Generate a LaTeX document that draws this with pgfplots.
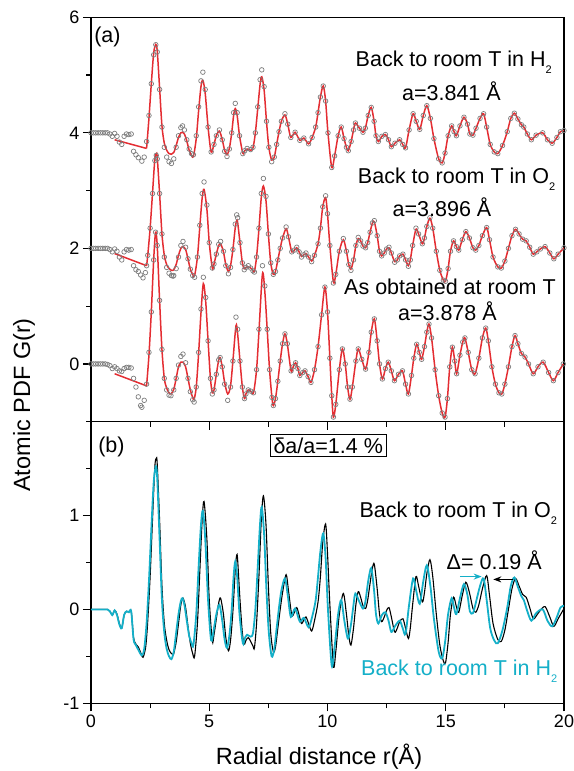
\documentclass[border=0pt]{standalone}
\usepackage{fontspec}
\setmainfont{Liberation Sans}
\usepackage{pgfplots}
\usepackage{pgfplotstable}
\pgfplotsset{compat=1.18}
\usetikzlibrary{arrows.meta}

\definecolor{redC}{RGB}{228,45,50}
\definecolor{cyanC}{RGB}{20,175,200}
\definecolor{grayC}{RGB}{125,125,125}

\newcommand{\fs}{\fontsize{21.5}{24}\selectfont}
\newcommand{\sub}[1]{\raisebox{-7pt}{\fontsize{11}{11}\selectfont #1}}

% r, measured G(r), fit (nan where the fit is not drawn)
% back to room T in H2
\pgfplotstableread{
r g f
0.0 0 nan
0.1 0 nan
0.2 0 nan
0.3 0 nan
0.4 0 nan
0.5 0 nan
0.6 0 nan
0.7 0 nan
0.8 -0.02 nan
0.9 -0.06 nan
1.0 -0.01 nan
1.1 -0.06 nan
1.2 -0.16 nan
1.3 -0.20 nan
1.4 -0.06 nan
1.5 -0.02 nan
1.6 -0.03 nan
1.7 -0.02 nan
1.8 -0.32 nan
1.9 -0.38 nan
2.0 -0.43 nan
2.15 -0.49 nan
2.25 -0.42 nan
2.35 -0.15 -0.27
2.45 0.30 0.25
2.55 0.85 0.85
2.65 1.35 1.38
2.74 1.525 1.53
2.8 1.40 1.42
2.9 0.75 0.78
3.0 0.10 0.12
3.1 -0.25 -0.18
3.2 -0.42 -0.30
3.3 -0.50 -0.36
3.40 -0.53 -0.37
3.5 -0.45 -0.34
3.6 -0.25 -0.22
3.7 -0.05 -0.08
3.8 0.09 0.00
3.87 0.12 0.01
3.95 0.05 -0.02
4.05 -0.12 -0.14
4.15 -0.28 -0.30
4.25 -0.36 -0.39
4.33 -0.38 -0.41
4.45 -0.05 -0.10
4.55 0.45 0.38
4.65 0.90 0.80
4.73 1.05 0.91
4.83 0.75 0.68
4.95 0.10 0.10
5.08 -0.33 -0.33
5.2 -0.20 -0.20
5.3 -0.05 -0.05
5.43 0.05 0.03
5.55 -0.12 -0.12
5.65 -0.32 -0.30
5.75 -0.41 -0.38
5.85 -0.28 -0.27
5.95 0.00 0.00
6.03 0.35 0.30
6.10 0.51 0.42
6.18 0.35 0.30
6.28 -0.05 -0.05
6.42 -0.36 -0.35
6.5 -0.31 -0.31
6.6 -0.27 -0.28
6.75 -0.29 -0.30
6.85 -0.25 -0.26
6.95 0.00 0.00
7.05 0.45 0.42
7.15 0.92 0.84
7.22 1.09 0.97
7.32 0.80 0.74
7.42 0.20 0.20
7.52 -0.25 -0.25
7.64 -0.50 -0.47
7.75 -0.42 -0.42
7.85 -0.20 -0.20
7.95 0.02 0.02
8.05 0.20 0.20
8.20 0.33 0.31
8.32 0.15 0.15
8.45 -0.08 -0.08
8.63 0.01 0.01
8.83 -0.13 -0.13
9.0 -0.09 -0.09
9.2 -0.19 -0.19
9.35 -0.08 -0.08
9.5 0.10 0.10
9.6 0.35 0.35
9.7 0.62 0.62
9.82 0.81 0.81
9.92 0.55 0.55
10.02 0.00 0.00
10.18 -0.60 -0.60
10.3 -0.40 -0.40
10.45 -0.05 -0.05
10.58 0.10 0.10
10.7 -0.10 -0.10
10.8 -0.25 -0.25
10.88 -0.31 -0.31
11.0 -0.15 -0.15
11.1 0.05 0.05
11.18 0.17 0.17
11.35 0.08 0.08
11.5 0.01 0.01
11.6 0.08 0.08
11.72 0.30 0.30
11.85 0.44 0.44
11.97 0.20 0.20
12.05 -0.05 -0.05
12.15 -0.15 -0.15
12.3 -0.06 -0.06
12.45 -0.03 -0.03
12.58 -0.12 -0.12
12.7 -0.24 -0.24
12.85 -0.18 -0.18
13.05 -0.12 -0.12
13.18 -0.20 -0.20
13.3 -0.26 -0.26
13.45 0.05 0.05
13.62 0.33 0.33
13.75 0.20 0.20
13.9 0.06 0.06
14.05 0.30 0.30
14.2 0.47 0.47
14.35 0.25 0.25
14.5 -0.10 -0.10
14.7 -0.45 -0.45
14.85 -0.52 -0.52
14.97 -0.35 -0.35
15.1 -0.05 -0.05
15.25 0.12 0.12
15.35 0.02 0.02
15.45 -0.05 -0.05
15.6 0.12 0.12
15.77 0.27 0.27
15.92 0.15 0.15
16.02 -0.02 -0.02
16.15 -0.04 -0.04
16.28 0.08 0.08
16.45 0.25 0.25
16.6 0.33 0.33
16.73 0.10 0.10
16.88 -0.20 -0.20
17.05 -0.33 -0.33
17.2 -0.36 -0.36
17.4 -0.22 -0.22
17.6 0.02 0.02
17.75 0.25 0.25
17.9 0.34 0.34
18.05 0.24 0.24
18.2 0.14 0.14
18.3 0.10 0.10
18.45 -0.02 -0.02
18.62 -0.12 -0.12
18.82 -0.04 -0.04
19.1 0.00 0.00
19.3 -0.12 -0.12
19.5 -0.18 -0.18
19.7 -0.08 -0.08
19.85 0.02 0.02
20.0 0.04 0.04
}\tabH

% back to room T in O2
\pgfplotstableread{
r g f
0.0 0 nan
0.1 0 nan
0.2 0 nan
0.3 0 nan
0.4 0 nan
0.5 0 nan
0.6 0 nan
0.7 0 nan
0.8 -0.02 nan
0.9 -0.06 nan
1.0 -0.01 nan
1.1 -0.05 nan
1.2 -0.15 nan
1.3 -0.20 nan
1.4 -0.06 nan
1.5 -0.02 nan
1.6 -0.03 nan
1.7 -0.02 nan
1.8 -0.30 nan
1.9 -0.37 nan
2.0 -0.40 nan
2.1 -0.46 nan
2.2 -0.51 nan
2.3 -0.42 nan
2.35 -0.30 -0.30
2.4 -0.12 -0.12
2.5 0.35 0.35
2.6 0.95 0.95
2.7 1.52 1.55
2.76 1.61 1.64
2.8 1.55 1.58
2.9 0.95 0.95
3.0 0.25 0.25
3.1 -0.15 -0.12
3.2 -0.33 -0.28
3.3 -0.43 -0.35
3.4 -0.47 -0.38
3.47 -0.48 -0.38
3.5 -0.47 -0.37
3.6 -0.35 -0.28
3.7 -0.15 -0.12
3.8 0.05 0.00
3.89 0.12 0.03
4.0 0.02 -0.02
4.1 -0.18 -0.18
4.2 -0.36 -0.36
4.3 -0.47 -0.45
4.38 -0.50 -0.47
4.5 -0.15 -0.15
4.6 0.40 0.37
4.7 0.95 0.87
4.78 1.15 1.02
4.9 0.75 0.68
5.0 0.10 0.10
5.13 -0.34 -0.34
5.2 -0.27 -0.27
5.3 -0.10 -0.10
5.4 0.07 0.05
5.48 0.12 0.08
5.6 -0.05 -0.06
5.7 -0.30 -0.28
5.81 -0.44 -0.40
5.9 -0.33 -0.30
6.0 -0.02 -0.02
6.1 0.42 0.36
6.16 0.58 0.48
6.2 0.53 0.45
6.3 0.10 0.10
6.4 -0.25 -0.25
6.48 -0.37 -0.35
6.55 -0.33 -0.33
6.65 -0.30 -0.32
6.75 -0.34 -0.34
6.85 -0.39 -0.38
6.91 -0.41 -0.40
7.0 -0.15 -0.15
7.1 0.35 0.33
7.2 0.95 0.88
7.29 1.21 1.08
7.4 0.90 0.82
7.5 0.25 0.25
7.6 -0.25 -0.25
7.71 -0.45 -0.45
7.8 -0.40 -0.40
7.9 -0.20 -0.20
8.0 0.00 0.00
8.1 0.18 0.18
8.25 0.37 0.34
8.35 0.20 0.20
8.49 -0.06 -0.06
8.6 -0.03 -0.03
8.70 0.02 0.01
8.8 -0.06 -0.06
8.9 -0.15 -0.14
9.0 -0.11 -0.11
9.09 -0.08 -0.09
9.2 -0.15 -0.15
9.33 -0.23 -0.22
9.45 -0.12 -0.12
9.6 0.08 0.08
9.7 0.35 0.35
9.8 0.72 0.72
9.92 0.91 0.88
10.0 0.60 0.60
10.1 0.05 0.05
10.25 -0.60 -0.58
10.35 -0.45 -0.45
10.5 -0.05 -0.05
10.67 0.17 0.15
10.8 -0.05 -0.05
10.9 -0.28 -0.28
10.99 -0.38 -0.36
11.1 -0.20 -0.20
11.2 0.05 0.05
11.30 0.19 0.17
11.4 0.13 0.13
11.5 0.04 0.04
11.61 0.01 0.01
11.7 0.10 0.10
11.8 0.28 0.28
11.9 0.44 0.44
11.98 0.48 0.46
12.1 0.22 0.22
12.2 -0.05 -0.05
12.29 -0.13 -0.13
12.4 -0.08 -0.08
12.5 -0.01 -0.01
12.60 0.02 0.01
12.7 -0.08 -0.08
12.84 -0.24 -0.23
12.95 -0.20 -0.20
13.05 -0.13 -0.13
13.19 -0.10 -0.10
13.3 -0.20 -0.20
13.42 -0.31 -0.30
13.5 -0.20 -0.20
13.6 0.05 0.05
13.74 0.35 0.33
13.85 0.25 0.25
14.01 0.08 0.08
14.1 0.18 0.18
14.2 0.38 0.38
14.33 0.53 0.52
14.45 0.35 0.35
14.6 -0.05 -0.05
14.75 -0.38 -0.38
14.9 -0.55 -0.55
14.99 -0.57 -0.57
15.1 -0.35 -0.35
15.2 -0.05 -0.05
15.33 0.13 0.13
15.45 0.03 0.03
15.55 -0.03 -0.03
15.7 0.15 0.15
15.85 0.29 0.29
16.0 0.18 0.18
16.15 0.01 0.01
16.27 -0.03 -0.03
16.4 0.05 0.05
16.55 0.22 0.22
16.73 0.36 0.36
16.85 0.15 0.15
17.0 -0.15 -0.15
17.2 -0.32 -0.32
17.35 -0.34 -0.34
17.5 -0.22 -0.22
17.65 0.00 0.00
17.8 0.22 0.22
17.95 0.33 0.33
18.1 0.25 0.25
18.25 0.16 0.16
18.4 0.13 0.13
18.55 0.02 0.02
18.7 -0.10 -0.10
18.85 -0.06 -0.06
19.0 -0.01 -0.01
19.2 0.03 0.03
19.4 -0.08 -0.08
19.57 -0.18 -0.18
19.75 -0.10 -0.10
20.0 0.01 0.01
}\tabO

% as obtained at room T
\pgfplotstableread{
r g f
0.0 0 nan
0.1 0 nan
0.2 0 nan
0.3 0 nan
0.4 0 nan
0.5 0 nan
0.6 0 nan
0.7 -0.01 nan
0.8 -0.03 nan
0.9 -0.08 nan
1.0 -0.05 nan
1.1 -0.08 nan
1.2 -0.12 nan
1.3 -0.13 nan
1.4 -0.08 nan
1.5 -0.06 nan
1.6 -0.06 nan
1.7 -0.07 nan
1.8 -0.25 nan
1.9 -0.40 nan
2.0 -0.57 nan
2.1 -0.72 nan
2.15 -0.75 nan
2.25 -0.63 nan
2.35 -0.35 -0.38
2.45 0.20 0.15
2.55 0.90 0.90
2.65 1.80 1.80
2.73 2.28 2.28
2.8 2.05 2.05
2.9 1.10 1.10
3.0 0.25 0.25
3.1 -0.25 -0.25
3.2 -0.45 -0.42
3.3 -0.54 -0.50
3.38 -0.55 -0.52
3.5 -0.45 -0.44
3.6 -0.25 -0.25
3.7 -0.02 -0.05
3.8 0.13 0.03
3.89 0.17 0.03
4.0 0.02 -0.05
4.1 -0.25 -0.25
4.2 -0.48 -0.45
4.3 -0.62 -0.58
4.36 -0.66 -0.61
4.45 -0.40 -0.40
4.55 0.20 0.18
4.65 0.95 0.88
4.75 1.50 1.39
4.85 1.15 1.08
4.95 0.40 0.40
5.05 -0.25 -0.25
5.13 -0.52 -0.50
5.2 -0.45 -0.45
5.3 -0.18 -0.18
5.4 0.07 0.07
5.46 0.11 0.11
5.55 -0.05 -0.05
5.65 -0.35 -0.32
5.78 -0.63 -0.52
5.9 -0.40 -0.38
6.0 0.05 0.05
6.13 0.81 0.66
6.2 0.60 0.52
6.3 0.05 0.05
6.4 -0.40 -0.40
6.49 -0.60 -0.60
6.55 -0.52 -0.52
6.65 -0.45 -0.45
6.75 -0.47 -0.47
6.87 -0.50 -0.50
7.0 -0.10 -0.10
7.1 0.60 0.55
7.25 1.70 1.56
7.35 1.35 1.25
7.45 0.60 0.60
7.55 -0.10 -0.10
7.65 -0.58 -0.58
7.71 -0.72 -0.72
7.8 -0.60 -0.60
7.9 -0.30 -0.30
8.0 0.05 0.05
8.1 0.35 0.35
8.2 0.52 0.52
8.3 0.35 0.35
8.46 -0.12 -0.12
8.55 -0.05 -0.05
8.65 0.02 0.02
8.75 -0.08 -0.08
8.83 -0.20 -0.20
8.95 -0.15 -0.15
9.05 -0.12 -0.12
9.18 -0.22 -0.22
9.30 -0.32 -0.32
9.45 -0.10 -0.10
9.6 0.30 0.30
9.75 0.85 0.85
9.89 1.33 1.33
10.0 0.90 0.90
10.1 0.10 0.10
10.18 -0.55 -0.55
10.25 -0.92 -0.92
10.35 -0.70 -0.70
10.5 -0.10 -0.10
10.63 0.26 0.26
10.75 0.00 0.00
10.85 -0.40 -0.40
10.95 -0.61 -0.61
11.05 -0.40 -0.40
11.2 0.05 0.05
11.30 0.26 0.26
11.45 0.08 0.08
11.61 -0.09 -0.09
11.75 0.20 0.20
11.85 0.55 0.55
11.98 0.78 0.78
12.1 0.40 0.40
12.2 0.00 0.00
12.32 -0.26 -0.26
12.45 -0.08 -0.08
12.57 0.03 0.03
12.7 -0.12 -0.12
12.83 -0.29 -0.29
13.0 -0.18 -0.18
13.17 -0.12 -0.12
13.3 -0.35 -0.35
13.42 -0.52 -0.52
13.55 -0.20 -0.20
13.65 0.10 0.10
13.77 0.34 0.34
13.88 0.20 0.20
13.98 0.08 0.08
14.1 0.30 0.30
14.2 0.55 0.55
14.29 0.69 0.69
14.4 0.45 0.45
14.55 -0.10 -0.10
14.7 -0.55 -0.55
14.85 -0.85 -0.85
14.97 -0.92 -0.92
15.07 -0.60 -0.60
15.17 -0.05 -0.05
15.28 0.29 0.29
15.38 0.05 0.05
15.46 -0.17 -0.17
15.6 0.15 0.15
15.72 0.38 0.38
15.81 0.45 0.45
15.95 0.20 0.20
16.1 -0.10 -0.10
16.24 -0.17 -0.17
16.4 0.10 0.10
16.55 0.45 0.45
16.69 0.62 0.62
16.8 0.40 0.40
16.95 -0.05 -0.05
17.1 -0.35 -0.35
17.25 -0.50 -0.50
17.37 -0.52 -0.52
17.5 -0.35 -0.35
17.65 -0.05 -0.05
17.8 0.30 0.30
17.93 0.49 0.49
18.05 0.35 0.35
18.2 0.18 0.18
18.35 0.12 0.12
18.5 0.00 0.00
18.7 -0.17 -0.17
18.9 -0.05 -0.05
19.12 0.03 0.03
19.35 -0.15 -0.15
19.55 -0.29 -0.29
19.75 -0.15 -0.15
19.97 0.00 0.00
}\tabA

\pgfplotsset{
  pdfax/.style={
    scale only axis, width=473pt, xmin=0, xmax=20,
    tick align=outside, tick pos=left,
    major tick length=8pt, minor tick length=5pt,
    axis line style={line width=1.5pt},
    every tick/.style={black, line width=1.2pt},
    xtick={0,5,10,15,20}, minor xtick={2.5,7.5,12.5,17.5},
    tick label style={font=\fontsize{18}{18}\selectfont},
    /pgf/number format/assume math mode=true,
  },
  datmark/.style={only marks, mark=o, mark size=2.3pt, mark options={grayC, line width=0.7pt}},
  fitlo/.style={redC, line width=1.5pt, mark=none},
  fithi/.style={redC, line width=1.5pt, smooth, mark=none},
}

\begin{document}
\begin{tikzpicture}
\path[use as bounding box] (0,0) rectangle (573pt,771pt);

% (a) measured data (circles) and fits (red), offset by 4, 2 and 0
\begin{axis}[pdfax, at={(91pt,349.3pt)}, anchor=south west, height=404.4pt,
  ymin=-1, ymax=6, ytick={0,2,4,6}, minor ytick={-1,1,3,5}, xticklabels={}]
\addplot[datmark] table[x=r, y expr=\thisrow{g}+4] {\tabH};
\addplot[fitlo] coordinates {(1.0,3.88) (2.35,3.73)};
\addplot[fithi] table[x=r, y expr=\thisrow{f}+4] {\tabH};
\addplot[datmark] table[x=r, y expr=\thisrow{g}+2] {\tabO};
\addplot[fitlo] coordinates {(1.0,1.91) (2.35,1.70)};
\addplot[fithi] table[x=r, y expr=\thisrow{f}+2] {\tabO};
\addplot[datmark] table[x=r, y=g] {\tabA};
\addplot[fitlo] coordinates {(1.0,-0.17) (2.35,-0.38)};
\addplot[fithi] table[x=r, y=f] {\tabA};
\node[anchor=west, inner sep=0, font=\fs] at (0.13,5.66) {(a)};
\node[anchor=base, inner sep=0, font=\fs] at (15.34,5.14) {Back to room T in H\sub{2}};
\node[anchor=base, inner sep=0, font=\fs] at (15.24,4.56) {a=3.841 Å};
\node[anchor=base, inner sep=0, font=\fs] at (15.46,3.12) {Back to room T in O\sub{2}};
\node[anchor=base, inner sep=0, font=\fs] at (14.84,2.55) {a=3.896 Å};
\node[anchor=base, inner sep=0, font=\fs] at (15.18,1.20) {As obtained at room T};
\node[anchor=base, inner sep=0, font=\fs] at (15.07,0.76) {a=3.878 Å};
\end{axis}

% (b) the two samples after cooling
\begin{axis}[pdfax, at={(91pt,67.7pt)}, anchor=south west, height=281.6pt,
  ymin=-1, ymax=2, ytick={-1,0,1}, minor ytick={-0.5,0.5,1.5}]
\addplot[black, line width=1.1pt, smooth, mark=none] table[x=r, y=g] {\tabO};
\addplot[cyanC, line width=1.8pt, smooth, mark=none] table[x=r, y=g] {\tabH};
\node[anchor=west, inner sep=0, font=\fs] at (0.30,1.73) {(b)};
\node[draw, line width=0.8pt, inner sep=3pt, font=\fs] at (10.03,1.747) {δa/a=1.4 \%};
\node[anchor=base, inner sep=0, font=\fs] at (15.53,0.977) {Back to room T in O\sub{2}};
\node[anchor=base, inner sep=0, font=\fs, text=cyanC] at (15.57,-0.705) {Back to room T in H\sub{2}};
\node[anchor=base, inner sep=0, font=\fs] at (17.05,0.425) {Δ= 0.19 Å};
\draw[cyanC, line width=1.5pt, -{Stealth[length=8pt,width=6pt]}] (15.6,0.35) -- (16.52,0.35);
\draw[black, line width=1.5pt, -{Stealth[length=8pt,width=6pt]}] (17.86,0.32) -- (17.01,0.32);
\end{axis}

\node[rotate=90, font=\fontsize{23.5}{26}\selectfont] at (24pt,366pt) {Atomic PDF G(r)};
\node[anchor=base, font=\fontsize{23.5}{26}\selectfont] at (319pt,6pt) {Radial distance r(Å)};
\end{tikzpicture}
\end{document}
